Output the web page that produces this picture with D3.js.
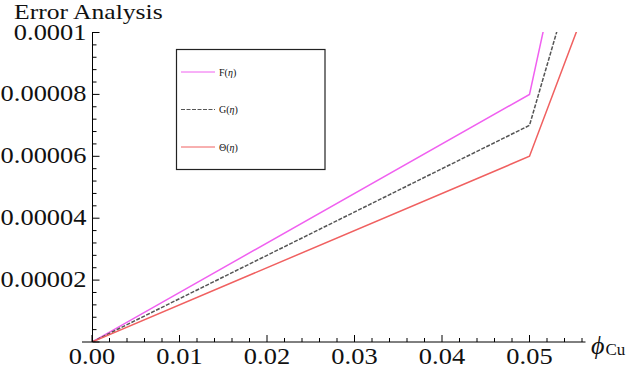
<!DOCTYPE html>
<html><head><meta charset="utf-8">
<script src="https://cdn.jsdelivr.net/npm/d3@7/dist/d3.min.js"></script>
<style>body{margin:0;background:#fff}svg{display:block}text{font-family:"Liberation Serif","DejaVu Serif",serif;fill:#111}</style>
</head><body>
<script>
const phi = [0, 0.05, 0.06];
const F = [0, 0.00008, 0.00021];
const G = [0, 0.00007, 0.000167];
const T = [0, 0.00006, 0.000135];
const series = [
  {name:"F", vals:F, color:"#f060f0", dash:null},
  {name:"G", vals:G, color:"#555555", dash:"4,1.5"},
  {name:"\u0398", vals:T, color:"#f06060", dash:null}
];
const xTicks = [0, 0.01, 0.02, 0.03, 0.04, 0.05];
const yTicks = [0.00002, 0.00004, 0.00006, 0.00008, 0.0001];
const yLabels = ["0.00002","0.00004","0.00006","0.00008","0.0001"];

const W=629,H=370;
const svg=d3.select("body").append("svg").attr("width",W).attr("height",H);
const x=d3.scaleLinear().domain([0,0.0564]).range([92,585.5]);
const y=d3.scaleLinear().domain([0,0.0001]).range([342,32.5]);

svg.append("clipPath").attr("id","c").append("rect")
  .attr("x",92).attr("y",32).attr("width",494).attr("height",310);

const line=d3.line().x(d=>x(d[0])).y(d=>y(d[1]));
series.forEach(s=>{
  svg.append("path").attr("clip-path","url(#c)")
    .datum(phi.map((p,i)=>[p,s.vals[i]]))
    .attr("d",line).attr("fill","none").attr("stroke",s.color)
    .attr("stroke-width",1.5).attr("stroke-dasharray",s.dash);
});

function stext(g,tx,ty,str,size,anchor,sx){
  return g.append("text").attr("transform",`translate(${tx},${ty}) scale(${sx||1.15},1)`)
    .attr("font-size",size).attr("text-anchor",anchor||"start").text(str);
}

// x axis
const minorX=d3.range(0,0.05601,0.002);
const ax=svg.append("g").attr("transform","translate(0,342)");
ax.append("line").attr("x1",82).attr("x2",585.5).attr("stroke","#000");
ax.selectAll(".mx").data(minorX).join("line")
  .attr("x1",d=>x(d)).attr("x2",d=>x(d)).attr("y1",0)
  .attr("y2",(d,i)=>i%5===0?-7:-4).attr("stroke","#000");
xTicks.forEach(v=>stext(ax,x(v),22,d3.format(".2f")(v),23,"middle"));

// y axis
const minorY=d3.range(0,0.00010001,0.000004);
const ay=svg.append("g").attr("transform","translate(92.5,0)");
ay.append("line").attr("y1",32).attr("y2",342).attr("stroke","#000");
ay.selectAll(".my").data(minorY).join("line")
  .attr("y1",d=>y(d)).attr("y2",d=>y(d)).attr("x1",0)
  .attr("x2",(d,i)=>i%5===0?7:4).attr("stroke","#000");
yTicks.forEach((v,i)=>stext(ay,-6,y(v)+7,yLabels[i],23,"end"));

stext(svg,14,19,"Error Analysis",21,"start",1.22);
const xl=svg.append("text").attr("x",591).attr("y",354).attr("font-size",26);
xl.append("tspan").attr("font-style","italic").text("\u03d5");
xl.append("tspan").attr("font-size",17).attr("dy",1).attr("dx",1).text("Cu");

// legend
const lg=svg.append("g");
lg.append("rect").attr("x",176.5).attr("y",49.5).attr("width",148.5).attr("height",120)
  .attr("fill","#fff").attr("stroke","#222").attr("stroke-width",1.2);
series.forEach((s,i)=>{
  const yy=72+i*37.5;
  lg.append("line").attr("x1",181).attr("x2",215).attr("y1",yy).attr("y2",yy)
    .attr("stroke",s.color).attr("stroke-width",1).attr("stroke-dasharray",s.dash);
  const t=lg.append("text").attr("x",219).attr("y",yy+3.5).attr("font-size",10);
  t.append("tspan").text(s.name+"(");
  t.append("tspan").attr("font-style","italic").text("\u03b7");
  t.append("tspan").text(")");
});
</script>
</body></html>
